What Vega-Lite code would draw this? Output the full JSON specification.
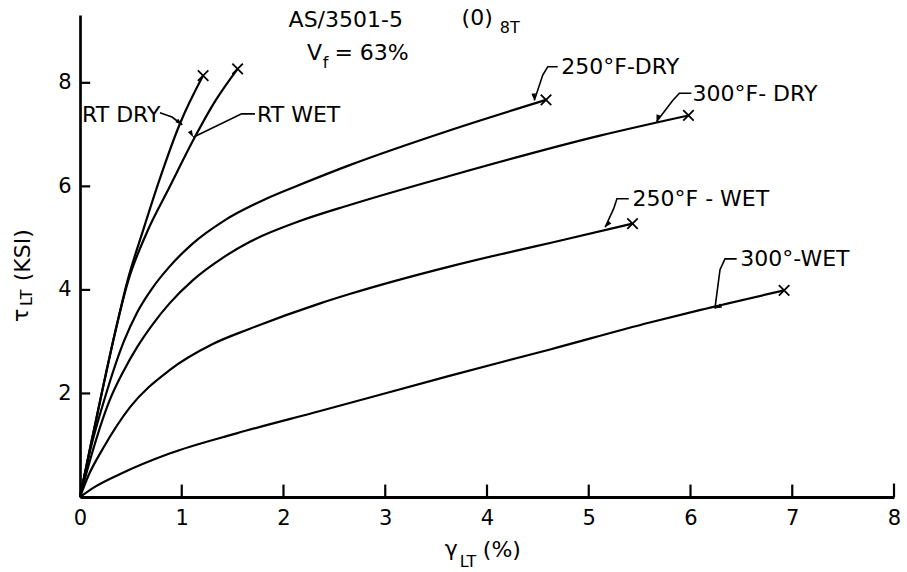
{
  "$schema": "https://vega.github.io/schema/vega-lite/v6.json",
  "autosize": {"type": "none"},
  "padding": {"left": 80, "top": 15, "right": 13, "bottom": 75},
  "width": 814,
  "height": 482,
  "background": "white",
  "config": {"view": {"stroke": null}, "font": "DejaVu Sans"},
  "datasets": {
    "curves": [
      {"s": "RT DRY", "x": 0, "y": 0}, {"s": "RT DRY", "x": 0.1, "y": 0.95}, {"s": "RT DRY", "x": 0.2, "y": 1.88}, {"s": "RT DRY", "x": 0.33, "y": 3.05}, {"s": "RT DRY", "x": 0.47, "y": 4.2}, {"s": "RT DRY", "x": 0.62, "y": 5.15}, {"s": "RT DRY", "x": 0.78, "y": 6.12}, {"s": "RT DRY", "x": 0.98, "y": 7.2}, {"s": "RT DRY", "x": 1.21, "y": 8.14},
      {"s": "RT WET", "x": 0, "y": 0}, {"s": "RT WET", "x": 0.1, "y": 0.95}, {"s": "RT WET", "x": 0.2, "y": 1.88}, {"s": "RT WET", "x": 0.33, "y": 3.05}, {"s": "RT WET", "x": 0.47, "y": 4.15}, {"s": "RT WET", "x": 0.655, "y": 5.1}, {"s": "RT WET", "x": 0.884, "y": 6.0}, {"s": "RT WET", "x": 1.107, "y": 6.87}, {"s": "RT WET", "x": 1.33, "y": 7.65}, {"s": "RT WET", "x": 1.549, "y": 8.27},
      {"s": "250°F-DRY", "x": 0, "y": 0}, {"s": "250°F-DRY", "x": 0.1, "y": 0.9}, {"s": "250°F-DRY", "x": 0.25, "y": 1.95}, {"s": "250°F-DRY", "x": 0.43, "y": 3.0}, {"s": "250°F-DRY", "x": 0.56, "y": 3.56}, {"s": "250°F-DRY", "x": 0.72, "y": 4.06}, {"s": "250°F-DRY", "x": 0.88, "y": 4.45}, {"s": "250°F-DRY", "x": 1.11, "y": 4.9}, {"s": "250°F-DRY", "x": 1.41, "y": 5.33}, {"s": "250°F-DRY", "x": 1.83, "y": 5.76}, {"s": "250°F-DRY", "x": 2.16, "y": 6.03}, {"s": "250°F-DRY", "x": 2.65, "y": 6.41}, {"s": "250°F-DRY", "x": 3.63, "y": 7.08}, {"s": "250°F-DRY", "x": 4.58, "y": 7.67},
      {"s": "300°F-DRY", "x": 0, "y": 0}, {"s": "300°F-DRY", "x": 0.1, "y": 0.72}, {"s": "300°F-DRY", "x": 0.29, "y": 1.86}, {"s": "300°F-DRY", "x": 0.43, "y": 2.44}, {"s": "300°F-DRY", "x": 0.56, "y": 2.89}, {"s": "300°F-DRY", "x": 0.72, "y": 3.35}, {"s": "300°F-DRY", "x": 0.88, "y": 3.74}, {"s": "300°F-DRY", "x": 1.11, "y": 4.19}, {"s": "300°F-DRY", "x": 1.41, "y": 4.63}, {"s": "300°F-DRY", "x": 1.67, "y": 4.93}, {"s": "300°F-DRY", "x": 2.16, "y": 5.33}, {"s": "300°F-DRY", "x": 2.65, "y": 5.64}, {"s": "300°F-DRY", "x": 3.63, "y": 6.2}, {"s": "300°F-DRY", "x": 5.11, "y": 6.98}, {"s": "300°F-DRY", "x": 5.98, "y": 7.37},
      {"s": "250°F-WET", "x": 0, "y": 0}, {"s": "250°F-WET", "x": 0.08, "y": 0.4}, {"s": "250°F-WET", "x": 0.23, "y": 0.95}, {"s": "250°F-WET", "x": 0.49, "y": 1.73}, {"s": "250°F-WET", "x": 0.88, "y": 2.45}, {"s": "250°F-WET", "x": 1.3, "y": 2.95}, {"s": "250°F-WET", "x": 1.67, "y": 3.25}, {"s": "250°F-WET", "x": 2.36, "y": 3.74}, {"s": "250°F-WET", "x": 2.65, "y": 3.92}, {"s": "250°F-WET", "x": 3.63, "y": 4.45}, {"s": "250°F-WET", "x": 4.29, "y": 4.76}, {"s": "250°F-WET", "x": 4.63, "y": 4.91}, {"s": "250°F-WET", "x": 5.43, "y": 5.28},
      {"s": "300°-WET", "x": 0, "y": 0}, {"s": "300°-WET", "x": 0.15, "y": 0.2}, {"s": "300°-WET", "x": 0.39, "y": 0.44}, {"s": "300°-WET", "x": 0.88, "y": 0.84}, {"s": "300°-WET", "x": 1.54, "y": 1.23}, {"s": "300°-WET", "x": 2.36, "y": 1.66}, {"s": "300°-WET", "x": 3.63, "y": 2.34}, {"s": "300°-WET", "x": 4.62, "y": 2.85}, {"s": "300°-WET", "x": 5.6, "y": 3.37}, {"s": "300°-WET", "x": 6.09, "y": 3.61}, {"s": "300°-WET", "x": 6.92, "y": 3.99}
    ],
    "labels": [
      {"label": "RT DRY", "x": 0.02, "y": 7.38},
      {"label": "RT WET", "x": 1.74, "y": 7.38},
      {"label": "250°F-DRY", "x": 4.73, "y": 8.31},
      {"label": "300°F- DRY", "x": 6.02, "y": 7.79},
      {"label": "250°F - WET", "x": 5.43, "y": 5.76},
      {"label": "300°-WET", "x": 6.49, "y": 4.59}
    ],
    "leaders": [
      {"label": "RT DRY", "i": 0, "x": 0.786, "y": 7.42}, {"label": "RT DRY", "i": 1, "x": 0.904, "y": 7.34}, {"label": "RT DRY", "i": 2, "x": 1.005, "y": 7.19},
      {"label": "RT WET", "i": 0, "x": 1.719, "y": 7.4}, {"label": "RT WET", "i": 1, "x": 1.588, "y": 7.4}, {"label": "RT WET", "i": 2, "x": 1.113, "y": 6.95},
      {"label": "250°F-DRY", "i": 0, "x": 4.695, "y": 8.31}, {"label": "250°F-DRY", "i": 1, "x": 4.597, "y": 8.31}, {"label": "250°F-DRY", "i": 2, "x": 4.548, "y": 8.15}, {"label": "250°F-DRY", "i": 3, "x": 4.465, "y": 7.66},
      {"label": "300°F- DRY", "i": 0, "x": 6.008, "y": 7.8}, {"label": "300°F- DRY", "i": 1, "x": 5.891, "y": 7.8}, {"label": "300°F- DRY", "i": 2, "x": 5.825, "y": 7.66}, {"label": "300°F- DRY", "i": 3, "x": 5.666, "y": 7.25},
      {"label": "250°F - WET", "i": 0, "x": 5.393, "y": 5.76}, {"label": "250°F - WET", "i": 1, "x": 5.277, "y": 5.76}, {"label": "250°F - WET", "i": 2, "x": 5.245, "y": 5.57}, {"label": "250°F - WET", "i": 3, "x": 5.161, "y": 5.21},
      {"label": "300°-WET", "i": 0, "x": 6.454, "y": 4.6}, {"label": "300°-WET", "i": 1, "x": 6.339, "y": 4.6}, {"label": "300°-WET", "i": 2, "x": 6.29, "y": 4.39}, {"label": "300°-WET", "i": 3, "x": 6.24, "y": 3.64}
    ],
    "titleMain": [
      {"t": "AS/3501-5", "x": 2.05, "y": 9.21},
      {"t": "(0)", "x": 3.75, "y": 9.26},
      {"t": "V", "x": 2.23, "y": 8.57},
      {"t": "= 63%", "x": 2.5, "y": 8.57},
      {"t": "γ", "x": 3.585, "y": -1.01},
      {"t": "(%)", "x": 3.959, "y": -1.03}
    ],
    "titleSub": [
      {"t": "8T", "x": 4.126, "y": 9.05},
      {"t": "f", "x": 2.385, "y": 8.39},
      {"t": "LT", "x": 3.733, "y": -1.25}
    ],
    "yTitle": [
      {"t": "τ", "x": -0.58, "y": 3.51, "k": "main"},
      {"t": "LT", "x": -0.516, "y": 3.85, "k": "sub"},
      {"t": "(KSI)", "x": -0.56, "y": 4.67, "k": "main"}
    ],
    "axisTicks": [
      {"tick": "x1", "x": 1, "y": 0}, {"tick": "x1", "x": 1, "y": 0.24},
      {"tick": "x2", "x": 2, "y": 0}, {"tick": "x2", "x": 2, "y": 0.24},
      {"tick": "x3", "x": 3, "y": 0}, {"tick": "x3", "x": 3, "y": 0.24},
      {"tick": "x4", "x": 4, "y": 0}, {"tick": "x4", "x": 4, "y": 0.24},
      {"tick": "x5", "x": 5, "y": 0}, {"tick": "x5", "x": 5, "y": 0.24},
      {"tick": "x6", "x": 6, "y": 0}, {"tick": "x6", "x": 6, "y": 0.24},
      {"tick": "x7", "x": 7, "y": 0}, {"tick": "x7", "x": 7, "y": 0.24},
      {"tick": "x8", "x": 8, "y": 0}, {"tick": "x8", "x": 8, "y": 0.26},
      {"tick": "y2", "x": 0, "y": 2}, {"tick": "y2", "x": 0.1, "y": 2},
      {"tick": "y4", "x": 0, "y": 4}, {"tick": "y4", "x": 0.1, "y": 4},
      {"tick": "y6", "x": 0, "y": 6}, {"tick": "y6", "x": 0.1, "y": 6},
      {"tick": "y8", "x": 0, "y": 8}, {"tick": "y8", "x": 0.1, "y": 8}
    ]
  },
  "encoding": {
    "x": {"field": "x", "type": "quantitative", "scale": {"domain": [0, 8], "nice": false, "zero": false},
      "axis": {"values": [0, 1, 2, 3, 4, 5, 6, 7, 8], "title": null, "grid": false, "ticks": false, "domainColor": "black", "domainWidth": 3, "labelFont": "DejaVu Sans", "labelFontSize": 21, "labelColor": "black", "labelPadding": 10, "labelFlush": false, "labelOverlap": false, "format": "d"}},
    "y": {"field": "y", "type": "quantitative", "scale": {"domain": [0, 9.31], "nice": false, "zero": false},
      "axis": {"values": [2, 4, 6, 8], "title": null, "grid": false, "ticks": false, "domainColor": "black", "domainWidth": 2.7, "labelFont": "DejaVu Sans", "labelFontSize": 21, "labelColor": "black", "labelPadding": 9, "labelFlush": false, "labelOverlap": false, "format": "d"}}
  },
  "layer": [
    {
      "data": {"name": "curves"},
      "mark": {"type": "line", "interpolate": "monotone", "color": "black", "strokeWidth": 2.2},
      "encoding": {"detail": {"field": "s", "type": "nominal"}}
    },
    {
      "data": {"name": "axisTicks"},
      "mark": {"type": "line", "color": "black", "strokeWidth": 2.2},
      "encoding": {"detail": {"field": "tick", "type": "nominal"}}
    },
    {
      "data": {"name": "curves"},
      "transform": [
        {"joinaggregate": [{"op": "max", "field": "x", "as": "xmax"}], "groupby": ["s"]},
        {"filter": "datum.x == datum.xmax"}
      ],
      "mark": {"type": "point", "shape": "M-1,-1L1,1M-1,1L1,-1", "size": 110, "filled": false, "color": "black", "strokeWidth": 1.8, "opacity": 1}
    },
    {
      "data": {"name": "leaders"},
      "mark": {"type": "line", "color": "black", "strokeWidth": 1.6},
      "encoding": {"detail": {"field": "label", "type": "nominal"}, "order": {"field": "i", "type": "quantitative"}}
    },
    {
      "data": {"name": "leaders"},
      "transform": [
        {"joinaggregate": [{"op": "max", "field": "i", "as": "imax"}], "groupby": ["label"]},
        {"filter": "datum.i == datum.imax"}
      ],
      "mark": {"type": "point", "shape": "M0,0L-1,-0.32L-1,0.32Z", "size": 196, "filled": true, "color": "black", "opacity": 1},
      "encoding": {"angle": {"field": "label", "type": "nominal", "legend": null,
        "scale": {"domain": ["RT DRY", "RT WET", "250°F-DRY", "300°F- DRY", "250°F - WET", "300°-WET"], "range": [38, 154, 108.5, 127.8, 114.6, 97.5]}}}
    },
    {
      "data": {"name": "labels"},
      "mark": {"type": "text", "align": "left", "baseline": "middle", "font": "DejaVu Sans", "fontSize": 22, "color": "black"},
      "encoding": {"text": {"field": "label", "type": "nominal"}}
    },
    {
      "data": {"name": "titleMain"},
      "mark": {"type": "text", "align": "left", "baseline": "middle", "font": "DejaVu Sans", "fontSize": 22, "color": "black"},
      "encoding": {"text": {"field": "t", "type": "nominal"}}
    },
    {
      "data": {"name": "titleSub"},
      "mark": {"type": "text", "align": "left", "baseline": "middle", "font": "DejaVu Sans", "fontSize": 16, "color": "black"},
      "encoding": {"text": {"field": "t", "type": "nominal"}}
    },
    {
      "data": {"name": "yTitle"},
      "mark": {"type": "text", "align": "center", "baseline": "middle", "font": "DejaVu Sans", "angle": 270, "color": "black"},
      "encoding": {"text": {"field": "t", "type": "nominal"},
        "size": {"field": "k", "type": "nominal", "legend": null, "scale": {"domain": ["main", "sub"], "range": [22, 16]}}}
    }
  ]
}
